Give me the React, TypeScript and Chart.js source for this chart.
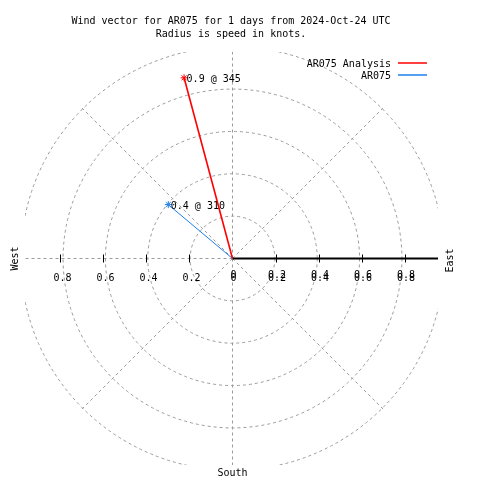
import React, { useEffect, useRef } from "react";
import { Chart, registerables } from "chart.js";

Chart.register(...registerables);

const TITLE_LINES = [
  "Wind vector for AR075 for 1 days from 2024-Oct-24 UTC",
  "Radius is speed in knots.",
];
const SERIES_NAMES = ["AR075 Analysis", "AR075"];
const SERIES_COLORS = ["#ff0000", "#1c80ec"];
const SERIES_WIDTHS = [1.6, 1];
const SPEEDS = [0.87, 0.39]; // knots
const DIRECTIONS = [345, 310]; // degrees
const RING_VALUES = [0.2, 0.4, 0.6, 0.8, 1.0];
const TICK_VALUES = [0.2, 0.4, 0.6, 0.8];
const SPOKE_ANGLES = [45, 90, 135, 180, 225, 270, 315];
const COMPASS = { west: "West", east: "East", south: "South" };

const FONT = "10px 'DejaVu Sans Mono', 'Liberation Mono', monospace";

function toXY(speed: number, dir: number) {
  const a = (dir * Math.PI) / 180;
  return { x: speed * Math.sin(a), y: speed * Math.cos(a) };
}

const polarPlugin = {
  id: "polarWind",
  beforeDatasetsDraw(chart: any) {
    const { ctx, chartArea, scales } = chart;
    const xs = scales.x;
    const ys = scales.y;
    const cx = xs.getPixelForValue(0);
    const cy = ys.getPixelForValue(0);
    const unit = xs.getPixelForValue(1) - cx;
    const outer = RING_VALUES[RING_VALUES.length - 1] * unit * 0.99;
    ctx.save();
    ctx.beginPath();
    ctx.rect(chartArea.left, chartArea.top, chartArea.right - chartArea.left, chartArea.bottom - chartArea.top);
    ctx.clip();
    ctx.strokeStyle = "#9a9a9a";
    ctx.lineWidth = 1;
    ctx.setLineDash([3, 3]);
    for (const r of RING_VALUES) {
      ctx.beginPath();
      ctx.arc(cx, cy, r * unit * 0.985, 0, Math.PI * 2);
      ctx.stroke();
    }
    for (const ang of SPOKE_ANGLES) {
      const a = (ang * Math.PI) / 180;
      ctx.beginPath();
      ctx.moveTo(cx, cy);
      ctx.lineTo(cx + Math.cos(a) * outer, cy - Math.sin(a) * outer);
      ctx.stroke();
    }
    ctx.setLineDash([]);
    // solid east axis
    ctx.strokeStyle = "#000000";
    ctx.lineWidth = 2;
    ctx.beginPath();
    ctx.moveTo(cx, cy);
    ctx.lineTo(chartArea.right, cy);
    ctx.stroke();
    // ticks
    ctx.lineWidth = 1;
    for (const t of TICK_VALUES) {
      for (const s of [-1, 1]) {
        const px = Math.round(xs.getPixelForValue(s * t)) + 0.5;
        ctx.beginPath();
        ctx.moveTo(px, cy - 4);
        ctx.lineTo(px, cy + 4);
        ctx.stroke();
      }
    }
    ctx.restore();

    // tick labels
    ctx.save();
    ctx.font = FONT;
    ctx.fillStyle = "#000000";
    ctx.textAlign = "center";
    ctx.textBaseline = "alphabetic";
    const ly = cy + 22;
    for (const t of TICK_VALUES) {
      const lx = xs.getPixelForValue(-t) + 2;
      ctx.fillText(t.toFixed(1), lx, ly);
      const rx = xs.getPixelForValue(t) + 1.5;
      ctx.fillText(t.toFixed(1), rx, ly);
      ctx.fillText(t.toFixed(1), rx, ly - 3);
    }
    ctx.fillText("0", cx + 1, ly);
    ctx.fillText("0", cx + 1, ly - 3);
    ctx.restore();
  },
  afterDatasetsDraw(chart: any) {
    const { ctx, scales } = chart;
    const xs = scales.x;
    const ys = scales.y;
    const cx = xs.getPixelForValue(0);
    const cy = ys.getPixelForValue(0);
    ctx.save();
    ctx.font = FONT;
    ctx.fillStyle = "#000000";
    // point labels
    ctx.textAlign = "left";
    ctx.textBaseline = "alphabetic";
    SPEEDS.forEach((s, i) => {
      const p = toXY(s, DIRECTIONS[i]);
      const px = xs.getPixelForValue(p.x);
      const py = ys.getPixelForValue(p.y);
      ctx.fillText(`${s.toFixed(1)} @ ${DIRECTIONS[i]}`, px + 2.5, py + 4);
    });
    // title
    ctx.textAlign = "center";
    ctx.fillText(TITLE_LINES[0], 231, 24);
    ctx.fillText(TITLE_LINES[1], 231, 37);
    // legend
    ctx.textAlign = "right";
    SERIES_NAMES.forEach((n, i) => {
      const y = 63 + i * 12;
      ctx.fillStyle = "#000000";
      ctx.fillText(n, 391, y + 4);
      ctx.strokeStyle = SERIES_COLORS[i];
      ctx.lineWidth = 1.5;
      ctx.beginPath();
      ctx.moveTo(398, y);
      ctx.lineTo(427, y);
      ctx.stroke();
    });
    // compass labels
    ctx.fillStyle = "#000000";
    ctx.textAlign = "center";
    ctx.fillText(COMPASS.south, cx, 476);
    ctx.save();
    ctx.translate(17.5, cy);
    ctx.rotate(-Math.PI / 2);
    ctx.fillText(COMPASS.west, 0, 0);
    ctx.restore();
    ctx.save();
    ctx.translate(453, cy + 2);
    ctx.rotate(-Math.PI / 2);
    ctx.fillText(COMPASS.east, 0, 0);
    ctx.restore();
    ctx.restore();
  },
};

export default function App() {
  const ref = useRef<HTMLCanvasElement | null>(null);
  useEffect(() => {
    if (!ref.current) return;
    const datasets = SPEEDS.map((s, i) => {
      const end = toXY(s, DIRECTIONS[i]);
      return {
        label: SERIES_NAMES[i],
        data: [
          { x: 0, y: 0 },
          { x: end.x, y: end.y },
        ],
        showLine: true,
        borderColor: SERIES_COLORS[i],
        backgroundColor: SERIES_COLORS[i],
        borderWidth: SERIES_WIDTHS[i],
        pointStyle: "star",
        pointRadius: (c: any) => (c.dataIndex === 1 ? 3.5 : 0),
        pointBorderWidth: 1,
        pointBorderColor: SERIES_COLORS[i],
        pointHoverRadius: 0,
      };
    });
    const chart = new Chart(ref.current, {
      type: "scatter",
      data: { datasets },
      options: {
        animation: false,
        responsive: true,
        maintainAspectRatio: false,
        events: [],
        layout: { padding: { left: 25, right: 42, top: 52, bottom: 15 } },
        scales: {
          x: { type: "linear", min: -0.9651, max: 0.9558, display: false },
          y: { type: "linear", min: -0.96047, max: 0.96047, display: false },
        },
        plugins: {
          legend: { display: false },
          title: { display: false },
          tooltip: { enabled: false },
        },
      },
      plugins: [polarPlugin],
    } as any);
    return () => chart.destroy();
  }, []);
  return (
    <div style={{ position: "fixed", left: 0, top: 0, width: 480, height: 480, background: "#ffffff" }}>
      <canvas ref={ref} />
    </div>
  );
}
